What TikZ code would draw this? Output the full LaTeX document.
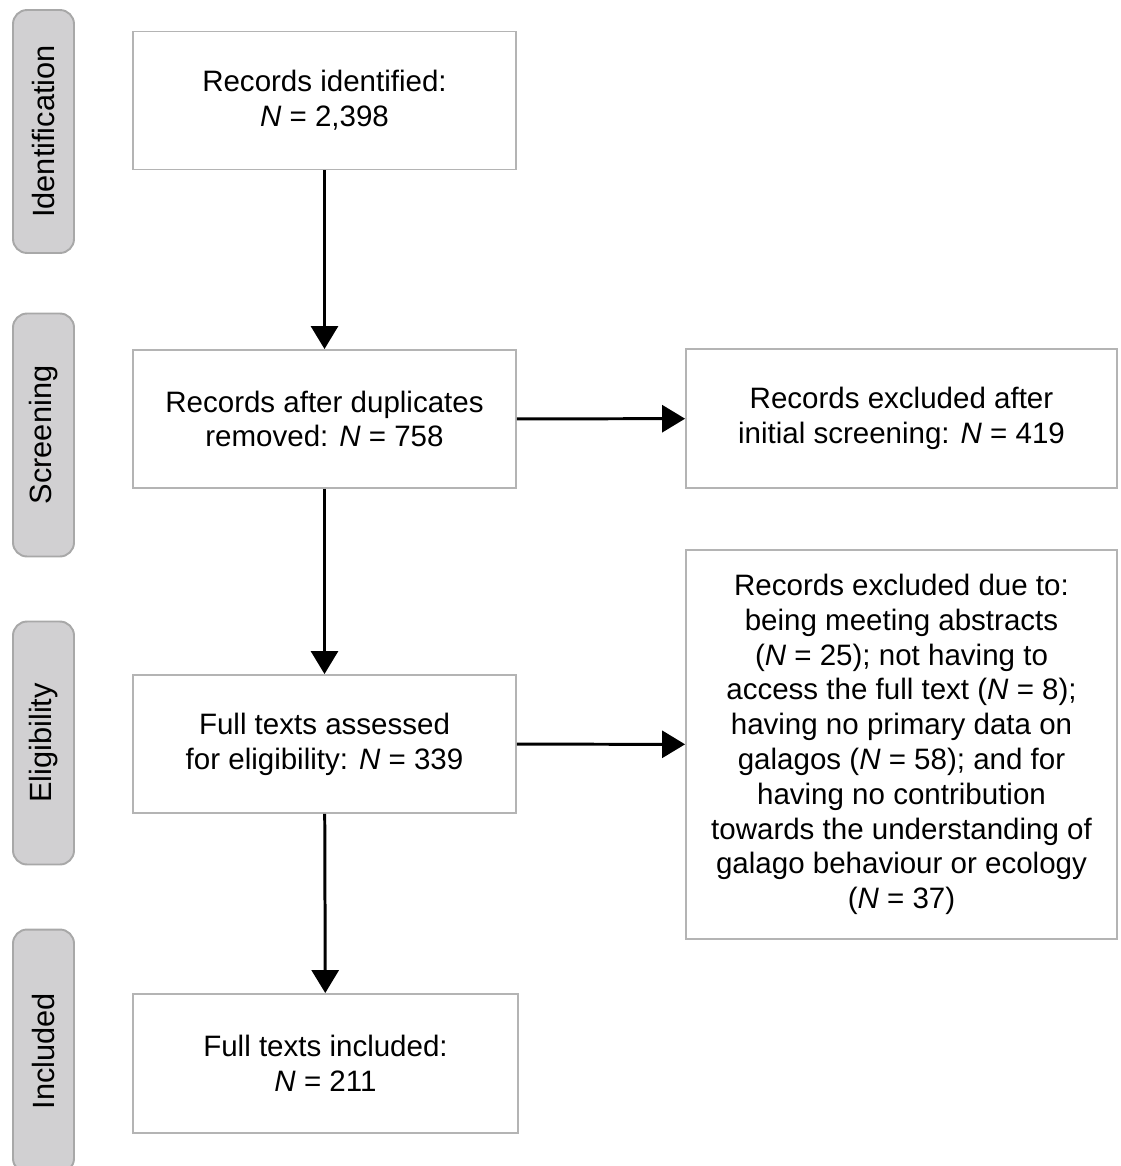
\documentclass[tikz,border=0pt]{standalone}
\usepackage{fontspec}
\setmainfont{Liberation Sans}
\usetikzlibrary{arrows.meta}
\definecolor{stagefill}{HTML}{D1D0D2}
\definecolor{stageline}{HTML}{A8A8A8}
\definecolor{boxline}{HTML}{B4B4B4}
\begin{document}
\begin{tikzpicture}[x=0.02cm,y=-0.02cm,
        stage/.style={draw=stageline, fill=stagefill, line width=1.1pt, rounded corners=0.28cm,
            rotate=90, minimum width=4.86cm, minimum height=1.22cm, inner sep=0pt,
            font=\fontsize{17.5}{20}\selectfont},
        stepbox/.style={draw=boxline, line width=1.1pt, minimum width=7.66cm, minimum height=2.76cm,
            inner sep=0pt, align=center, font=\fontsize{16.8}{19.8}\selectfont},
        flow/.style={-{Triangle[length=0.46cm,width=0.54cm]}, line width=1.7pt}]
        \useasboundingbox (0,0) rectangle (1121,1166);
        \clip (0,0) rectangle (1121,1166);

        \node[stage] (lblid) at (43.5,131.5) {Identification};
        \node[stage] (lblscr) at (43.5,435) {Screening};
        \node[stage] (lblelig) at (43.5,743) {Eligibility};
        \node[stage] (lblinc) at (43.5,1051) {Included};

        \node[stepbox] (ident) at (324.5,100.5) {Records identified:\\ \textit{N} = 2,398};
        \node[stepbox] (screen) at (324.5,419) {Records after duplicates\\ removed: \textit{N} = 758};
        \node[stepbox, minimum width=8.62cm, minimum height=2.78cm] (excl1) at (901.5,418.5)
            {Records excluded after\\ initial screening: \textit{N} = 419};
        \node[stepbox] (elig) at (324.5,744) {Full texts assessed\\ for eligibility: \textit{N} = 339};
        \node[stepbox, minimum width=8.62cm, minimum height=7.78cm] (excl2) at (901.5,744.5)
            {Records excluded due to:\\ being meeting abstracts\\ (\textit{N} = 25); not having to\\
             access the full text (\textit{N} = 8);\\ having no primary data on\\
             galagos (\textit{N} = 58); and for\\ having no contribution\\
             towards the understanding of\\ galago behaviour or ecology\\ (\textit{N} = 37)};
        \node[stepbox, minimum width=7.7cm, minimum height=2.78cm] (incl) at (325.5,1063.5)
            {Full texts included:\\ \textit{N} = 211};

        \draw[flow] (ident) -- (screen);
        \draw[flow] (screen) -- (elig);
        \draw[flow] (elig) -- (incl);
        \draw[flow] (screen) -- (excl1);
        \draw[flow] (elig) -- (excl2);
    \end{tikzpicture}
\end{document}
